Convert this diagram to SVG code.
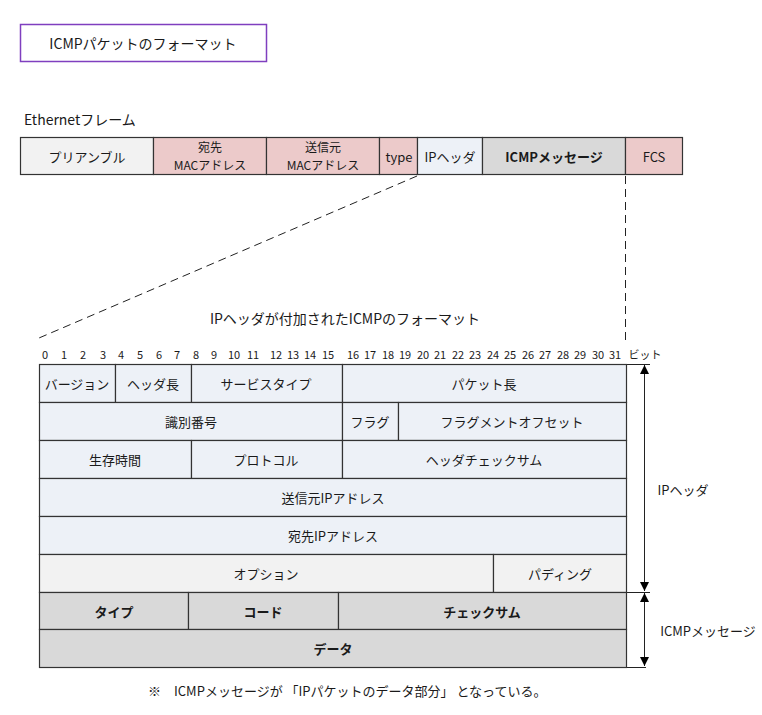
<svg xmlns="http://www.w3.org/2000/svg" width="762" height="715" viewBox="0 0 762 715">
<style>
text{font-family:"Noto Sans CJK JP","Liberation Sans",sans-serif;fill:#1a1a1a;font-size:13px;text-anchor:middle;dominant-baseline:central}
.c{stroke:#333;stroke-width:1.2}
.pk{fill:#eccaca}
.ip{fill:#edf1f7}
.gy{fill:#f2f2f2}
.ic{fill:#d9d9d9}
.b{font-weight:bold}
.n{font-size:11px}
.s{font-size:12px}
.d{stroke:#222;stroke-width:1;stroke-dasharray:8,5;fill:none}
.l{stroke:#222;stroke-width:1;fill:none}
</style>
<defs>
<marker id="ah" viewBox="0 0 10 10" refX="10" refY="5" markerWidth="9" markerHeight="12" markerUnits="userSpaceOnUse" orient="auto-start-reverse">
<path d="M0,0 L10,5 L0,10 z" fill="#000"/>
</marker>
</defs>
<rect width="762" height="715" fill="#fff"/>

<g id="title">
<rect x="20.5" y="24.5" width="246" height="37" fill="#fff" stroke="#7f3fbf" stroke-width="1.5"/>
<text x="143" y="43" style="font-size:14px">ICMPパケットのフォーマット</text>
</g>

<text x="24" y="119" style="text-anchor:start;font-size:14px">Ethernetフレーム</text>

<g id="eth-preamble"><rect class="c gy" x="20.5" y="137.5" width="133" height="37"/><text x="87" y="156">プリアンブル</text></g>
<g id="eth-dst"><rect class="c pk" x="153.5" y="137.5" width="113" height="37"/><text class="s" x="210" y="146">宛先</text><text class="s" x="210" y="164.5">MACアドレス</text></g>
<g id="eth-src"><rect class="c pk" x="266.5" y="137.5" width="113" height="37"/><text class="s" x="323" y="146">送信元</text><text class="s" x="323" y="164.5">MACアドレス</text></g>
<g id="eth-type"><rect class="c pk" x="379.5" y="137.5" width="38" height="37"/><text x="399" y="156">type</text></g>
<g id="eth-ip"><rect class="c ip" x="417.5" y="137.5" width="65" height="37"/><text x="450" y="156">IPヘッダ</text></g>
<g id="eth-icmp"><rect class="c ic" x="482.5" y="137.5" width="143" height="37"/><text class="b" x="554" y="156">ICMPメッセージ</text></g>
<g id="eth-fcs"><rect class="c pk" x="625.5" y="137.5" width="57" height="37"/><text x="654" y="156">FCS</text></g>

<g id="connectors">
<path class="d" d="M417,176 L39,338"/>
<path class="d" d="M625.5,176 L625.5,342"/>
<path class="l" d="M626,364.5 H650 M626,592.5 H650 M626,667.5 H646"/>
<path class="l" d="M644.5,365 V591" marker-start="url(#ah)" marker-end="url(#ah)"/>
<path class="l" d="M644.5,593 V666" marker-start="url(#ah)" marker-end="url(#ah)"/>
</g>

<text x="345" y="318" style="font-size:14px">IPヘッダが付加されたICMPのフォーマット</text>

<g id="bits">
<text class="n" x="45" y="354">0</text>
<text class="n" x="64" y="354">1</text>
<text class="n" x="83" y="354">2</text>
<text class="n" x="103" y="354">3</text>
<text class="n" x="121" y="354">4</text>
<text class="n" x="140" y="354">5</text>
<text class="n" x="159" y="354">6</text>
<text class="n" x="177" y="354">7</text>
<text class="n" x="196" y="354">8</text>
<text class="n" x="214" y="354">9</text>
<text class="n" x="234" y="354">10</text>
<text class="n" x="253" y="354">11</text>
<text class="n" x="276" y="354">12</text>
<text class="n" x="293" y="354">13</text>
<text class="n" x="310" y="354">14</text>
<text class="n" x="328" y="354">15</text>
<text class="n" x="353" y="354">16</text>
<text class="n" x="370" y="354">17</text>
<text class="n" x="388" y="354">18</text>
<text class="n" x="405" y="354">19</text>
<text class="n" x="423" y="354">20</text>
<text class="n" x="440" y="354">21</text>
<text class="n" x="458" y="354">22</text>
<text class="n" x="475" y="354">23</text>
<text class="n" x="493" y="354">24</text>
<text class="n" x="510" y="354">25</text>
<text class="n" x="528" y="354">26</text>
<text class="n" x="545" y="354">27</text>
<text class="n" x="563" y="354">28</text>
<text class="n" x="580" y="354">29</text>
<text class="n" x="598" y="354">30</text>
<text class="n" x="615" y="354">31</text>
<text class="n" x="645" y="354">ビット</text>
</g>

<g id="f-version"><rect class="c ip" x="39.5" y="364.5" width="76" height="38"/><text x="77" y="383">バージョン</text></g>
<g id="f-ihl"><rect class="c ip" x="115.5" y="364.5" width="76" height="38"/><text x="153" y="383">ヘッダ長</text></g>
<g id="f-tos"><rect class="c ip" x="191.5" y="364.5" width="151" height="38"/><text x="266" y="383">サービスタイプ</text></g>
<g id="f-len"><rect class="c ip" x="342.5" y="364.5" width="284" height="38"/><text x="484" y="383">パケット長</text></g>

<g id="f-id"><rect class="c ip" x="39.5" y="402.5" width="303" height="38"/><text x="191" y="421">識別番号</text></g>
<g id="f-flag"><rect class="c ip" x="342.5" y="402.5" width="56" height="38"/><text x="370" y="421">フラグ</text></g>
<g id="f-frag"><rect class="c ip" x="398.5" y="402.5" width="228" height="38"/><text x="512" y="421">フラグメントオフセット</text></g>

<g id="f-ttl"><rect class="c ip" x="39.5" y="440.5" width="152" height="38"/><text x="115" y="459">生存時間</text></g>
<g id="f-proto"><rect class="c ip" x="191.5" y="440.5" width="151" height="38"/><text x="266" y="459">プロトコル</text></g>
<g id="f-hcs"><rect class="c ip" x="342.5" y="440.5" width="284" height="38"/><text x="484" y="459">ヘッダチェックサム</text></g>

<g id="f-src"><rect class="c ip" x="39.5" y="478.5" width="587" height="38"/><text x="333" y="497">送信元IPアドレス</text></g>
<g id="f-dst"><rect class="c ip" x="39.5" y="516.5" width="587" height="38"/><text x="333" y="535">宛先IPアドレス</text></g>

<g id="f-opt"><rect class="c gy" x="39.5" y="554.5" width="454" height="38"/><text x="266" y="573">オプション</text></g>
<g id="f-pad"><rect class="c gy" x="493.5" y="554.5" width="133" height="38"/><text x="560" y="573">パディング</text></g>

<g id="f-type"><rect class="c ic" x="39.5" y="592.5" width="149" height="37"/><text class="b" x="114" y="611">タイプ</text></g>
<g id="f-code"><rect class="c ic" x="188.5" y="592.5" width="150" height="37"/><text class="b" x="263" y="611">コード</text></g>
<g id="f-cks"><rect class="c ic" x="338.5" y="592.5" width="288" height="37"/><text class="b" x="482" y="611">チェックサム</text></g>
<g id="f-data"><rect class="c ic" x="39.5" y="629.5" width="587" height="38"/><text class="b" x="333" y="648">データ</text></g>

<text x="683" y="489">IPヘッダ</text>
<text x="708" y="630">ICMPメッセージ</text>

<text x="148" y="690" style="text-anchor:start">※　ICMPメッセージが 「IPパケットのデータ部分」 となっている。</text>
</svg>
